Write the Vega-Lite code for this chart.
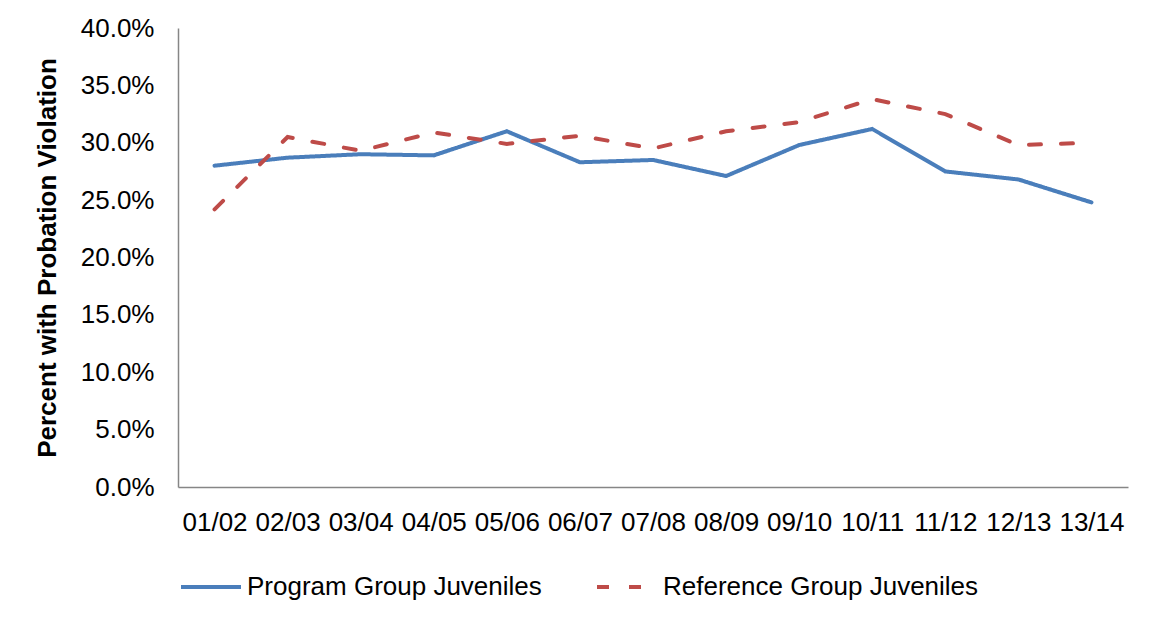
{
  "$schema": "https://vega.github.io/schema/vega-lite/v6.json",
  "width": 950,
  "height": 459,
  "autosize": {"type": "none"},
  "padding": {"left": 178, "top": 28, "right": 23, "bottom": 131},
  "background": "white",
  "config": {
    "font": "Liberation Sans",
    "view": {"stroke": null},
    "axis": {"grid": false, "ticks": false, "domainColor": "#868686", "domainWidth": 1.5, "labelColor": "black", "titleColor": "black", "labelFontSize": 26, "labelFont": "Liberation Sans"}
  },
  "data": {
    "values": [
      {"year": "01/02", "series": "Program Group Juveniles", "value": 0.280},
      {"year": "02/03", "series": "Program Group Juveniles", "value": 0.287},
      {"year": "03/04", "series": "Program Group Juveniles", "value": 0.290},
      {"year": "04/05", "series": "Program Group Juveniles", "value": 0.289},
      {"year": "05/06", "series": "Program Group Juveniles", "value": 0.310},
      {"year": "06/07", "series": "Program Group Juveniles", "value": 0.283},
      {"year": "07/08", "series": "Program Group Juveniles", "value": 0.285},
      {"year": "08/09", "series": "Program Group Juveniles", "value": 0.271},
      {"year": "09/10", "series": "Program Group Juveniles", "value": 0.298},
      {"year": "10/11", "series": "Program Group Juveniles", "value": 0.312},
      {"year": "11/12", "series": "Program Group Juveniles", "value": 0.275},
      {"year": "12/13", "series": "Program Group Juveniles", "value": 0.268},
      {"year": "13/14", "series": "Program Group Juveniles", "value": 0.248},
      {"year": "01/02", "series": "Reference Group Juveniles", "value": 0.242},
      {"year": "02/03", "series": "Reference Group Juveniles", "value": 0.305},
      {"year": "03/04", "series": "Reference Group Juveniles", "value": 0.293},
      {"year": "04/05", "series": "Reference Group Juveniles", "value": 0.309},
      {"year": "05/06", "series": "Reference Group Juveniles", "value": 0.299},
      {"year": "06/07", "series": "Reference Group Juveniles", "value": 0.306},
      {"year": "07/08", "series": "Reference Group Juveniles", "value": 0.295},
      {"year": "08/09", "series": "Reference Group Juveniles", "value": 0.310},
      {"year": "09/10", "series": "Reference Group Juveniles", "value": 0.318},
      {"year": "10/11", "series": "Reference Group Juveniles", "value": 0.338},
      {"year": "11/12", "series": "Reference Group Juveniles", "value": 0.325},
      {"year": "12/13", "series": "Reference Group Juveniles", "value": 0.298},
      {"year": "13/14", "series": "Reference Group Juveniles", "value": 0.300}
    ]
  },
  "mark": {"type": "line", "strokeWidth": 4, "strokeCap": "round"},
  "encoding": {
    "x": {
      "field": "year", "type": "ordinal", "sort": null,
      "axis": {"title": null, "labelAngle": 0, "labelPadding": 22}
    },
    "y": {
      "field": "value", "type": "quantitative",
      "scale": {"domain": [0, 0.4], "nice": false},
      "axis": {
        "values": [0, 0.05, 0.1, 0.15, 0.2, 0.25, 0.3, 0.35, 0.4],
        "format": ".1%",
        "labelPadding": 24,
        "title": "Percent with Probation Violation",
        "titleFontSize": 26,
        "titleFontWeight": "bold",
        "titlePadding": 20
      }
    },
    "color": {
      "field": "series", "type": "nominal",
      "scale": {"domain": ["Program Group Juveniles", "Reference Group Juveniles"], "range": ["#4A7EBB", "#BE4B48"]},
      "legend": {
        "title": null,
        "orient": "none",
        "direction": "horizontal",
        "legendX": 1,
        "legendY": 527,
        "symbolType": "stroke",
        "symbolSize": 3600,
        "symbolStrokeWidth": 4,
        "labelFontSize": 26,
        "labelColor": "black",
        "labelLimit": 0,
        "labelOffset": 4,
        "columnPadding": 47
      }
    },
    "strokeDash": {
      "field": "series", "type": "nominal",
      "scale": {"domain": ["Program Group Juveniles", "Reference Group Juveniles"], "range": [[1, 0], [12, 20]]},
      "legend": {
        "title": null,
        "orient": "none",
        "direction": "horizontal",
        "legendX": 1,
        "legendY": 527,
        "symbolType": "stroke",
        "symbolSize": 3600,
        "symbolStrokeWidth": 4,
        "labelFontSize": 26,
        "labelColor": "black",
        "labelLimit": 0,
        "labelOffset": 4,
        "columnPadding": 47
      }
    }
  }
}
